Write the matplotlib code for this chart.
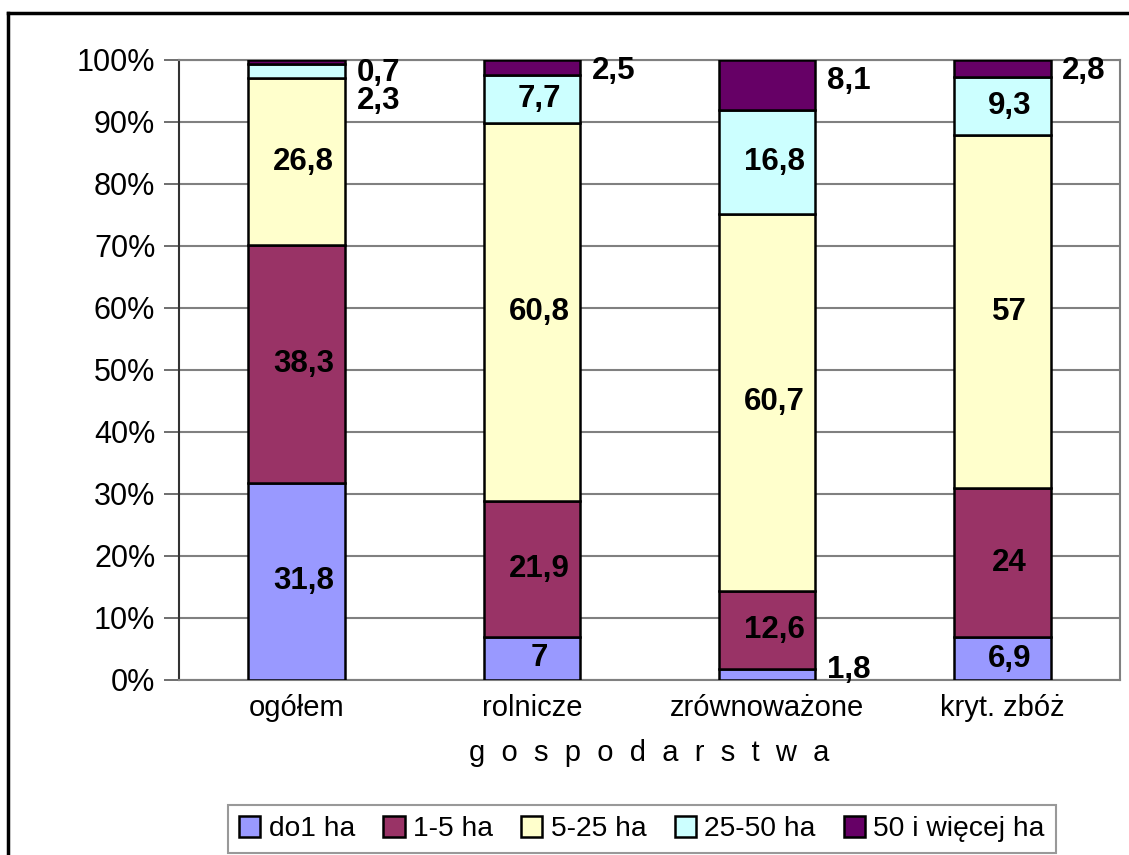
import numpy as np
import matplotlib.pyplot as plt
from matplotlib.patches import Patch
from matplotlib.lines import Line2D

plt.rcParams['font.family'] = ['Liberation Sans', 'DejaVu Sans']

# gospodarstwa i udzialy grup obszarowych (%)
kategorie = ["ogółem", "rolnicze", "zrównoważone", "kryt. zbóż"]
grupy = ["do1 ha", "1-5 ha", "5-25 ha", "25-50 ha", "50 i więcej ha"]
do1 = [31.8, 7, 1.8, 6.9]
od1do5 = [38.3, 21.9, 12.6, 24]
od5do25 = [26.8, 60.8, 60.7, 57]
od25do50 = [2.3, 7.7, 16.8, 9.3]
pow50 = [0.7, 2.5, 8.1, 2.8]
etykiety = [
    ["31,8", "7", "1,8", "6,9"],
    ["38,3", "21,9", "12,6", "24"],
    ["26,8", "60,8", "60,7", "57"],
    ["2,3", "7,7", "16,8", "9,3"],
    ["0,7", "2,5", "8,1", "2,8"],
]
kolory = ["#9999FF", "#993366", "#FFFFCC", "#CCFFFF", "#660066"]

dane = np.array([do1, od1do5, od5do25, od25do50, pow50])
proc = dane / dane.sum(axis=0) * 100

fig = plt.figure(figsize=(11.29, 8.55), dpi=100)
ax = fig.add_axes([0.1585, 0.2047, 0.8335, 0.7253])

x = np.arange(len(kategorie))
szer = 0.41
fs_lab = 22.5
dol = np.zeros(len(kategorie))
for i in range(len(grupy)):
    ax.bar(x, proc[i], szer, bottom=dol, color=kolory[i], edgecolor='black',
           linewidth=1.8, zorder=3)
    for j in range(len(kategorie)):
        h = proc[i][j]
        yc = dol[j] + h / 2
        xr = x[j] + szer / 2 + 0.05
        # male segmenty - etykieta obok slupka
        if i == 0 and h < 3:
            ax.text(xr, 1.6, etykiety[i][j], ha='left', va='center',
                    fontsize=fs_lab, fontweight='bold', zorder=4)
        elif i == 3 and h < 3:
            ax.text(xr, 93.3, etykiety[i][j], ha='left', va='center',
                    fontsize=fs_lab, fontweight='bold', zorder=4)
        elif i == 4:
            yy = 98.2 if h < 5 else 96.6
            if h < 1:
                yy = 97.9
            ax.text(xr, yy, etykiety[i][j], ha='left', va='center',
                    fontsize=fs_lab, fontweight='bold', zorder=4)
        else:
            ax.text(x[j] + 0.03, yc, etykiety[i][j], ha='center', va='center',
                    fontsize=fs_lab, fontweight='bold', zorder=4)
    dol += proc[i]

ax.set_xlim(-0.5, 3.5)
ax.set_ylim(0, 100)
ax.set_yticks(np.arange(0, 101, 10))
ax.set_yticklabels([f"{v}%" for v in range(0, 101, 10)], fontsize=22)
ax.set_xticks(x)
ax.set_xticklabels(kategorie, fontsize=21)
ax.tick_params(axis='x', length=0, pad=10)
ax.tick_params(axis='y', length=11, width=1.2, color='#555555', pad=6)
ax.yaxis.grid(True, color='#808080', linewidth=1.5, zorder=0)
for s in ['top', 'right', 'bottom']:
    ax.spines[s].set_color('#808080')
    ax.spines[s].set_linewidth(1.5)
ax.spines['left'].set_color('#333333')
ax.spines['left'].set_linewidth(1.5)
ax.set_xlabel("  ".join("gospodarstwa"), fontsize=21, labelpad=12)

uchwyty = [Patch(facecolor=kolory[i], edgecolor='black', linewidth=1.8, label=grupy[i])
           for i in range(len(grupy))]
leg = fig.legend(handles=uchwyty, loc='lower left', bbox_to_anchor=(0.202, 0.002),
                 ncol=5, fontsize=20.3, frameon=True, fancybox=False,
                 handlelength=0.75, handleheight=0.75, handletextpad=0.3,
                 columnspacing=1.0, borderpad=0.4, borderaxespad=0)
leg.get_frame().set_edgecolor('#808080')
leg.get_frame().set_linewidth(1.5)

# ramka wykresu
fig.add_artist(Line2D([8 / 1129, 8 / 1129], [0, 1 - 13 / 855], color='black', linewidth=2.5))
fig.add_artist(Line2D([8 / 1129, 1], [1 - 13 / 855, 1 - 13 / 855], color='black', linewidth=2.5))

fig.savefig("out.png", dpi=100)
